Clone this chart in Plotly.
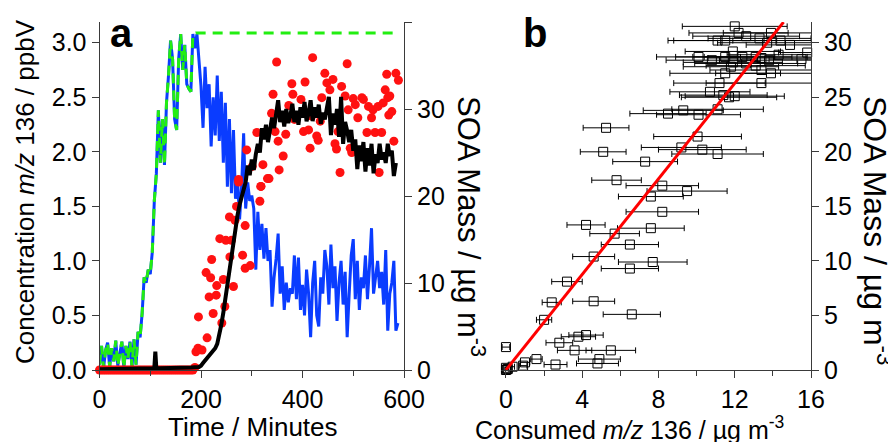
import plotly.graph_objects as go

W, H = 896, 442
OFF = 8  # page body margin offset of the plot div

# ---------------- Panel a data ----------------
blue_t = [0, 4, 8, 12, 16, 20, 24, 28, 32, 36, 40, 44, 48, 52, 56, 60, 64, 68, 72, 76,
          80, 84, 88, 92, 96, 100, 104, 108, 112, 116, 120, 124, 128, 132, 136, 140, 144, 148, 152, 156,
          160, 164, 168, 172, 176, 180, 184, 188, 192, 196, 200, 204, 208, 212, 216, 220, 224, 228, 232, 236,
          240, 244, 248, 252, 256, 260, 264, 268, 272, 276, 280, 284, 288, 292, 296, 300, 304, 308, 312, 316,
          320, 324, 328, 332, 336, 340, 344, 348, 352, 356, 360, 364, 368, 372, 376, 380, 384, 388, 392, 396,
          400, 404, 408, 412, 416, 420, 424, 428, 432, 436, 440, 444, 448, 452, 456, 460, 464, 468, 472, 476,
          480, 484, 488, 492, 496, 500, 504, 508, 512, 516, 520, 524, 528, 532, 536, 540, 544, 548, 552, 556,
          560, 564, 568, 572, 576, 580, 584, 588]
blue_v = [0.05, 0.22, 0.02, 0.18, 0.25, 0.03, 0.20, 0.08, 0.27, 0.04, 0.15, 0.26, 0.02, 0.22, 0.10, 0.26, 0.03, 0.28, 0.05, 0.35,
          0.30, 0.52, 0.85, 0.80, 0.92, 0.88, 1.08, 1.55, 1.80, 2.38, 1.90, 2.30, 1.88, 2.45, 2.70, 3.02, 2.85, 2.30, 2.20, 2.85,
          3.08, 2.75, 2.98, 2.62, 2.58, 2.55, 3.08, 2.95, 3.08, 2.85, 2.60, 2.22, 2.78, 2.40, 2.62, 2.05, 2.50, 2.15, 2.70, 2.10,
          2.55, 1.90, 2.45, 1.68, 2.30, 1.62, 2.20, 1.57, 1.75, 1.38, 1.68, 2.17, 1.48, 1.72, 1.55, 1.60, 1.48, 0.92, 1.45, 1.10,
          1.34, 1.02, 1.30, 1.00, 1.10, 0.58, 0.85, 1.02, 1.25, 0.70, 0.95, 0.55, 0.80, 0.62, 0.75, 0.70, 1.05, 0.65, 1.03, 0.55,
          0.78, 0.50, 0.92, 0.70, 0.30, 0.80, 1.00, 0.50, 0.40, 0.85, 0.70, 1.10, 0.95, 0.60, 1.15, 0.75, 0.95, 0.45, 0.80, 1.00,
          0.60, 0.90, 0.30, 0.70, 1.05, 1.20, 0.65, 1.00, 0.55, 0.85, 0.75, 1.05, 0.65, 0.95, 1.30, 0.70, 0.85, 1.00, 0.75, 0.90,
          0.60, 1.10, 0.36, 0.70, 0.80, 1.00, 0.36, 0.43]

green_t = [0, 4, 8, 12, 16, 20, 24, 28, 32, 36, 40, 44, 48, 52, 56, 60, 64, 68, 72, 76,
           80, 84, 88, 92, 96, 100, 104, 108, 112, 116, 120, 124, 128, 132, 136, 140, 144, 148, 152, 156,
           160, 164, 168, 172, 176, 180, 184, 190, 590]
green_v = [0.05, 0.22, 0.02, 0.18, 0.25, 0.03, 0.20, 0.08, 0.27, 0.04, 0.15, 0.26, 0.02, 0.22, 0.10, 0.26, 0.03, 0.28, 0.05, 0.35,
           0.30, 0.52, 0.85, 0.80, 0.92, 0.88, 1.08, 1.55, 1.80, 2.38, 1.90, 2.30, 1.88, 2.45, 2.70, 3.02, 2.85, 2.30, 2.20, 2.85,
           3.08, 2.75, 2.98, 2.62, 2.58, 2.55, 3.08, 3.09, 3.09]

black_t = [0, 20, 40, 60, 80, 100, 108, 110, 112, 120, 140, 160, 180, 196,
           200, 204, 208, 212, 216, 220, 224, 228, 232, 236, 240, 244, 248, 252, 256, 260,
           264, 268, 272, 276, 280, 284, 288, 292, 296, 300, 304, 308, 312, 316, 320, 324,
           328, 332, 336, 340, 344, 348, 352, 356, 360, 364, 368, 372, 376, 380, 384, 388,
           392, 396, 400, 404, 408, 412, 416, 420, 424, 428, 432, 436, 440, 444, 448, 452,
           456, 460, 464, 468, 472, 476, 480, 484, 488, 492, 496, 500, 504, 508, 512, 516,
           520, 524, 528, 532, 536, 540, 544, 548, 552, 556, 560, 564, 568, 572, 576, 580, 584]
black_v = [0.1, 0.1, 0.1, 0.1, 0.15, 0.15, 0.2, 2.1, 0.2, 0.2, 0.2, 0.25, 0.3, 0.35,
           0.5, 0.8, 1.1, 1.4, 1.7, 2.0, 2.3, 2.5, 3.0, 4.0, 5.2, 6.6, 8.2, 10.0, 11.8, 13.3,
           15.0, 16.5, 17.8, 19.0, 19.8, 20.5, 21.6, 23.5, 22.4, 24.2, 23.0, 24.8, 26.0, 25.0, 27.8, 26.5,
           28.2, 26.2, 27.5, 29.0, 27.8, 29.2, 31.0, 28.5, 29.8, 28.0, 30.0, 28.4, 29.2, 30.6, 28.5, 29.8,
           28.2, 30.2, 29.0, 30.8, 28.6, 29.5, 31.0, 28.6, 30.2, 29.0, 30.5, 28.3, 29.6, 28.8, 30.0, 31.4,
           27.0, 29.5, 28.2, 30.0, 26.8, 31.4, 26.0, 28.5, 27.5, 26.2, 27.6, 25.2, 26.5, 23.1, 25.8, 24.0,
           26.2, 22.8, 25.5, 23.5, 26.0, 22.6, 24.8, 23.8, 26.0, 24.2, 25.0, 23.8, 26.0, 24.6, 25.2, 22.3, 23.8]

red_t = [0, 4, 8, 12, 16, 20, 24, 28, 32, 36, 40, 44, 48, 52, 56, 60, 64, 68, 72, 76,
         80, 84, 88, 92, 96, 100, 104, 108, 112, 116, 120, 124, 128, 132, 136, 140, 144, 148, 152, 156,
         160, 164, 168, 172, 176, 180, 184, 188,
         190, 194, 195, 202, 210, 212, 216, 219, 221, 224, 230, 231, 237, 241, 244, 247, 249, 256, 257, 260,
         264, 267, 270, 274, 274, 282, 287, 287, 290, 297, 301, 310, 316, 318, 318, 322, 331, 334, 339, 342,
         346, 349, 352, 354, 362, 367, 373, 379, 381, 384, 397, 402, 405, 412, 415, 418, 420, 428, 431, 435,
         438, 444, 448, 454, 460, 464, 467, 470, 474, 477, 484, 488, 490, 494, 497, 500, 504, 509, 517, 520,
         527, 530, 536, 539, 543, 549, 551, 556, 559, 563, 566, 568, 570, 572, 576, 580, 584, 589]
red_v = [0.0, 0.0, 0.0, 0.0, 0.0, 0.0, 0.0, 0.0, 0.0, 0.0, 0.0, 0.0, 0.0, 0.0, 0.0, 0.0, 0.0, 0.0, 0.0, 0.0,
         0.0, 0.0, 0.0, 0.0, 0.0, 0.0, 0.0, 0.0, 0.0, 0.0, 0.0, 0.0, 0.0, 0.0, 0.0, 0.0, 0.0, 0.0, 0.0, 0.0,
         0.0, 0.0, 0.0, 0.0, 0.0, 0.0, 0.0, 0.3,
         2.1, 2.5, 6.1, 2.3, 11.2, 3.7, 8.4, 10.6, 12.7, 6.5, 8.6, 9.7, 15.1, 5.4, 10.4, 7.3, 14.9, 17.6, 13.0, 14.9,
         9.6, 17.2, 18.8, 21.9, 21.6, 13.2, 11.7, 16.6, 25.3, 12.0, 23.4, 27.3, 19.4, 21.1, 21.1, 23.6, 22.0, 22.0, 29.5, 31.7,
         27.4, 35.4, 26.3, 23.0, 24.6, 27.1, 30.4, 32.9, 31.7, 28.8, 31.1, 27.4, 33.1, 27.6, 25.5, 29.2, 35.9, 26.9, 26.4, 28.6,
         31.3, 34.1, 33.0, 32.2, 33.4, 26.0, 25.4, 27.4, 22.7, 32.6, 31.5, 35.2, 29.9, 25.5, 25.0, 31.2, 30.5, 29.0, 31.3, 31.1,
         27.3, 30.3, 29.0, 29.9, 27.3, 30.3, 22.7, 27.3, 30.7, 32.2, 34.0, 31.3, 29.3, 31.5, 29.7, 26.3, 34.1, 33.3]

# ---------------- Panel b data ----------------
b_x = [12.0, 12.2, 13.9, 13.3, 11.5, 11.1, 14.4, 14.9, 13.7, 12.6,
       10.1, 10.8, 11.5, 11.9, 12.4, 13.1, 13.4, 13.8, 14.3, 15.5, 15.8,
       11.9, 11.8, 12.6, 13.1, 11.5, 13.4, 13.9, 11.2, 13.4,
       10.7, 11.4, 11.7, 12.0, 9.3, 8.5, 10.1, 11.1, 5.25, 10.05,
       9.2, 10.3, 11.1, 5.1, 7.3, 5.8, 8.2, 9.5, 7.6, 8.2,
       4.2, 7.6, 5.7, 6.5, 7.7, 4.6, 6.5, 3.2, 2.4, 4.6,
       2.0, 6.6, 3.8, 4.2, 2.8, 3.6, 5.5, 0.0, 1.6, 4.9,
       4.8, 2.6, 1.0, 0.9, 0.35, 0.1, 0.0, 0.05, 0.0]
b_y = [31.5, 30.9, 30.9, 30.4, 30.2, 30.2, 30.2, 29.8, 30.0, 30.6,
       28.7, 28.4, 28.7, 29.2, 28.7, 28.7, 28.6, 28.4, 28.9, 28.5, 29.1,
       28.2, 27.8, 28.1, 27.9, 27.2, 27.5, 27.2, 26.3, 26.3,
       25.5, 25.2, 25.0, 25.1, 23.8, 23.5, 23.4, 23.9, 22.2, 21.4,
       20.4, 20.2, 19.8, 20.0, 19.1, 17.4, 16.9, 16.4, 15.9, 14.5,
       13.3, 13.0, 12.5, 11.5, 9.9, 10.4, 9.3, 8.1, 6.2, 6.3,
       4.6, 5.1, 3.05, 3.2, 2.5, 1.8, 1.8, 2.1, 1.0, 1.0,
       0.6, 0.5, 0.7, 0.4, 0.3, 0.1, 0.0, 0.05, 0.2]
b_err = [2.75, 2.6, 2.5, 2.7, 2.7, 2.6, 2.5, 2.3, 2.6, 2.8,
         2.2, 2.4, 2.6, 2.5, 2.6, 2.7, 2.8, 2.6, 2.7, 1.7, 1.5,
         2.6, 2.5, 2.7, 2.6, 2.9, 2.7, 2.9, 2.4, 2.9,
         2.1, 2.3, 2.5, 2.6, 2.1, 2.0, 2.2, 2.4, 1.2, 2.3,
         2.1, 2.3, 2.4, 1.2, 1.7, 1.3, 1.9, 2.1, 1.7, 1.9,
         1.0, 1.75, 1.3, 1.5, 1.8, 1.1, 1.5, 0.8, 0.5, 1.1,
         0.4, 1.5, 0.9, 0.9, 0.7, 0.9, 1.3, 0.2, 0.3, 1.1,
         1.1, 0.6, 0.25, 0.2, 0.1, 0.05, 0.05, 0.05, 0.05]
fit_slope = 2.19
fit_x = [0.0, 14.56]

# ---------------- Figure ----------------
FONT = "Liberation Sans, Arial, sans-serif"
AX = "#3a3a3a"


def pxx(x):
    return (x - OFF) / W


def pxy(y):
    return 1 - (y - OFF) / H


fig = go.Figure()

fig.add_trace(go.Scatter(x=blue_t, y=blue_v, mode="lines",
                         line=dict(color="#0a3cff", width=3), xaxis="x", yaxis="y"))
fig.add_trace(go.Scatter(x=green_t, y=green_v, mode="lines",
                         line=dict(color="#22ee11", width=3, dash="10px,7px"), xaxis="x", yaxis="y"))
fig.add_trace(go.Scatter(x=red_t, y=red_v, mode="markers", cliponaxis=False,
                         marker=dict(color="#ff1111", size=9), xaxis="x", yaxis="y2"))
fig.add_trace(go.Scatter(x=black_t, y=black_v, mode="lines",
                         line=dict(color="black", width=4), xaxis="x", yaxis="y2"))

fig.add_trace(go.Scatter(x=b_x, y=b_y, mode="markers", cliponaxis=False,
                         marker=dict(symbol="square-open", size=9, color="black", line=dict(width=1)),
                         error_x=dict(type="data", array=b_err, color="black", thickness=1, width=3),
                         xaxis="x2", yaxis="y3"))
fig.add_trace(go.Scatter(x=fit_x, y=[fit_slope * v for v in fit_x], mode="lines",
                         line=dict(color="#ff0000", width=3), xaxis="x2", yaxis="y3"))

ydom = [pxy(370), pxy(22)]
tickfont = dict(family=FONT, size=25, color="black")

common = dict(showline=True, linecolor=AX, linewidth=1, showgrid=False, zeroline=False,
              ticks="outside", ticklen=7, tickcolor=AX, tickfont=tickfont, automargin=False)

fig.update_layout(
    width=W, height=H, autosize=False, margin=dict(l=0, r=0, t=0, b=0, pad=0, autoexpand=False),
    paper_bgcolor="white", plot_bgcolor="white", showlegend=False,
    xaxis=dict(domain=[pxx(99.5), pxx(404)], range=[0, 600], anchor="y",
               tickvals=[0, 200, 400, 600], minor=dict(tickvals=[100, 300, 500], ticklen=5, tickcolor=AX, ticks="outside"),
               **common),
    yaxis=dict(domain=ydom, range=[0, 3.19], anchor="x", tickvals=[0, 0.5, 1.0, 1.5, 2.0, 2.5, 3.0],
               tickformat=".1f", **common),
    yaxis2=dict(domain=ydom, range=[0, 40], anchor="x", overlaying="y", side="right",
                tickvals=[0, 10, 20, 30, 40], **common),
    xaxis2=dict(domain=[pxx(501), pxx(811)], range=[-0.26, 16], anchor="y3",
                tickvals=[0, 4, 8, 12, 16], minor=dict(tickvals=[2, 6, 10, 14], ticklen=5, tickcolor=AX, ticks="outside"),
                **common),
    yaxis3=dict(domain=ydom, range=[0, 31.9], anchor="x2", side="right",
                tickvals=[0, 5, 10, 15, 20, 25, 30], **common),
)

annos = [
    ("<b>a</b>", 121, 33, 0, 40),
    ("<b>b</b>", 535, 33, 0, 40),
    ("Concentration <i>m/z</i> 136 / ppbV", 25, 192, -90, 26),
    ("Time / Minutes", 253, 427, 0, 26),
    ("SOA Mass / µg m<sup>-3</sup>", 471, 226, 90, 31),
    ("Consumed <i>m/z</i> 136 / µg m<sup>-3</sup>", 629, 428, 0, 25),
    ("SOA Mass / µg m<sup>-3</sup>", 877, 231, 90, 32),
]
for text, x, y, ang, size in annos:
    fig.add_annotation(text=text, x=pxx(x), y=pxy(y), xref="paper", yref="paper", showarrow=False,
                       textangle=ang, xanchor="center", yanchor="middle",
                       font=dict(family=FONT, size=size, color="black"))

fig.write_html("out.html")
